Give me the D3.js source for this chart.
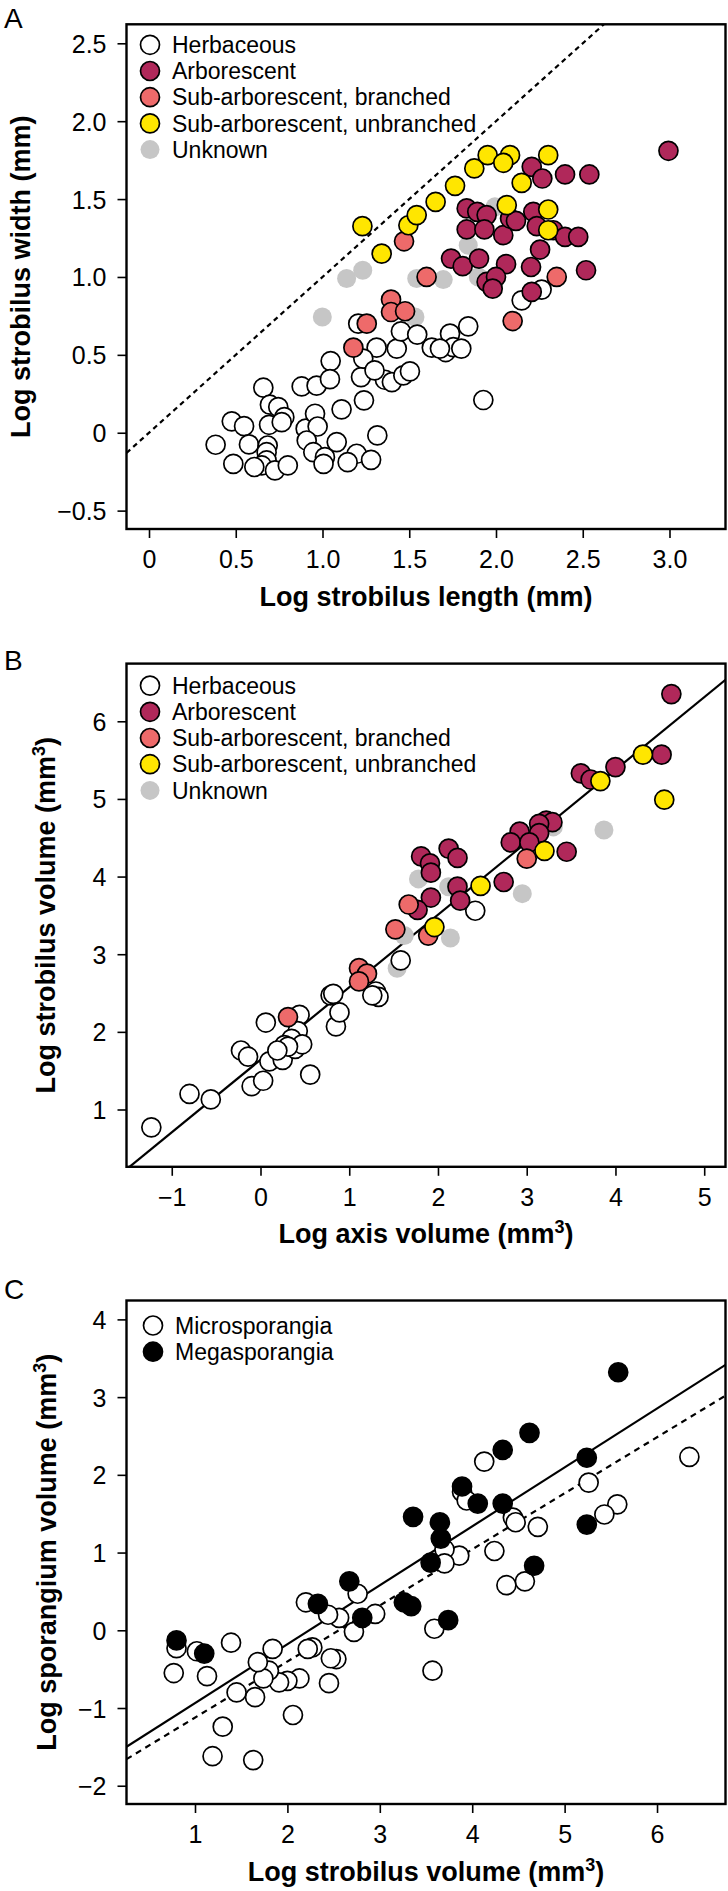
<!DOCTYPE html>
<html><head><meta charset="utf-8">
<script src="https://cdn.jsdelivr.net/npm/d3@7"></script>
<style>
body{margin:0;background:#fff}
svg{display:block}
</style>
</head><body>
<svg id="c" width="728" height="1891"></svg>
<script>
// ---------------- DATA ----------------
// Panel A: log strobilus length (x) vs log strobilus width (y)
const herbA = [[0.384,-0.077],[0.486,-0.2],[0.477,0.073],[0.548,0.042],[0.576,-0.075],[0.659,0.289],[0.697,0.18],[0.745,0.165],[0.692,0.051],[0.78,0.1],[0.765,0.068],[0.684,-0.082],[0.678,-0.125],[0.678,-0.178],[0.65,-0.21],[0.726,-0.242],[0.80,-0.21],[0.607,-0.22],[0.88,0.297],[0.966,0.302],[1.047,0.46],[1.043,0.344],[0.903,0.026],[0.957,0.122],[0.972,0.04],[0.909,-0.05],[0.947,-0.125],[1.014,-0.157],[1.006,-0.2],[1.082,-0.06],[1.11,0.15],[1.197,-0.135],[1.145,-0.189],[1.28,-0.174],[1.316,-0.017],[1.239,0.208],[1.222,0.357],[1.312,0.546],[1.235,0.476],[1.36,0.34],[1.30,0.40],[1.40,0.325],[1.466,0.368],[1.504,0.394],[1.428,0.54],[1.452,0.651],[1.546,0.63],[1.63,0.546],[1.71,0.518],[1.206,0.70],[2.148,0.85],[2.263,0.919],[1.84,0.683],[1.735,0.636],[1.754,0.55],[1.80,0.54],[1.677,0.54],[1.927,0.21]];
const arbA = [[2.206,1.707],[2.267,1.632],[2.398,1.658],[2.538,1.658],[1.831,1.44],[1.892,1.418],[1.946,1.397],[1.831,1.305],[1.933,1.305],[2.042,1.268],[2.081,1.375],[2.115,1.36],[2.215,1.418],[2.235,1.326],[2.33,1.30],[2.398,1.257],[2.474,1.257],[2.254,1.176],[1.741,1.118],[1.808,1.069],[1.902,1.118],[2.058,1.082],[2.202,1.064],[2.519,1.043],[1.946,0.968],[2.0,1.0],[1.981,0.925],[2.206,0.904],[2.994,1.81]];
const branchA = [[1.178,0.546],[1.255,0.70],[1.395,0.855],[1.395,0.775],[1.476,0.78],[1.60,1.0],[1.47,1.229],[2.35,1.0],[2.096,0.717]];
const unbranchA = [[1.23,1.326],[1.341,1.15],[1.495,1.332],[1.543,1.397],[1.652,1.482],[1.764,1.585],[1.875,1.697],[1.952,1.782],[2.081,1.782],[2.042,1.733],[2.301,1.782],[2.148,1.604],[2.062,1.461],[2.301,1.433],[2.301,1.30]];
const unknownA = [[0.999,0.743],[1.139,0.99],[1.232,1.043],[1.533,0.743],[1.543,0.99],[1.696,0.983],[1.84,1.204],[1.898,1.0],[1.994,1.45]];

// Panel B: log axis volume (x) vs log strobilus volume (y)
const herbB = [[-1.23,0.77],[-0.80,1.20],[-0.56,1.13],[-0.10,1.30],[0.03,1.37],[-0.22,1.76],[-0.14,1.68],[0.10,1.62],[0.25,1.64],[0.06,2.12],[0.44,2.22],[0.42,2.01],[0.35,1.91],[0.39,1.78],[0.47,1.84],[0.27,1.83],[0.31,1.81],[0.19,1.76],[0.56,1.45],[0.85,2.07],[0.89,2.25],[0.79,2.47],[0.82,2.49],[1.30,2.52],[1.33,2.45],[1.26,2.47],[1.58,2.92],[2.42,3.56]];
const arbB = [[4.63,6.35],[4.52,5.57],[4.00,5.41],[3.61,5.33],[3.72,5.25],[3.22,4.72],[3.29,4.70],[3.14,4.68],[2.92,4.58],[3.14,4.56],[2.82,4.44],[3.03,4.44],[3.45,4.32],[2.74,3.93],[2.12,4.36],[2.22,4.24],[1.81,4.26],[1.91,4.17],[1.92,4.05],[2.22,3.87],[2.25,3.69],[1.92,3.73],[1.77,3.57]];
const branchB = [[3.00,4.23],[1.67,3.64],[1.52,3.32],[1.11,2.82],[1.20,2.75],[1.11,2.65],[0.31,2.19],[1.89,3.24]];
const unbranchB = [[4.31,5.57],[3.83,5.23],[4.55,4.99],[3.20,4.33],[2.48,3.88],[1.96,3.35]];
const unknownB = [[3.87,4.60],[2.95,3.78],[1.78,3.97],[2.12,3.87],[2.14,3.21],[1.62,3.24],[1.54,2.82],[3.30,4.64]];

// Panel C: log strobilus volume (x) vs log sporangium volume (y)
const microC = [[6.35,2.23],[4.13,2.17],[5.26,1.90],[5.57,1.62],[5.43,1.49],[3.89,1.78],[3.94,1.67],[4.44,1.45],[4.47,1.39],[4.71,1.33],[4.24,1.02],[3.86,0.96],[3.70,1.04],[3.70,0.86],[4.37,0.58],[4.57,0.63],[3.59,0.02],[3.57,-0.52],[2.76,0.47],[2.95,0.21],[2.72,-0.02],[2.56,0.16],[2.44,0.20],[2.20,0.36],[2.27,-0.22],[2.22,-0.24],[2.53,-0.37],[2.47,-0.36],[2.45,-0.68],[2.13,-0.62],[2.00,-0.65],[1.91,-0.67],[1.84,-0.24],[1.80,-0.52],[1.74,-0.62],[1.68,-0.41],[1.65,-0.86],[1.45,-0.80],[1.39,-0.16],[1.13,-0.59],[1.02,-0.27],[0.80,-0.23],[0.77,-0.55],[1.30,-1.24],[1.19,-1.62],[1.63,-1.67],[2.06,-1.09]];
const megaC = [[5.58,3.32],[4.62,2.54],[4.33,2.32],[5.24,2.22],[3.89,1.85],[4.06,1.63],[4.33,1.63],[3.36,1.46],[3.65,1.39],[3.66,1.18],[5.24,1.36],[3.55,0.87],[4.67,0.83],[2.67,0.63],[2.33,0.34],[3.26,0.36],[3.34,0.31],[2.81,0.16],[3.74,0.13],[0.80,-0.13],[1.10,-0.30]];

// fitted lines [intercept, slope]
const lineA = [0, 1];            // 1:1 line (dashed)
const lineB = [1.64, 0.934];     // solid
const lineC1 = [-1.695, 0.758];  // solid
const lineC2 = [-1.845, 0.7215]; // dashed

// tick values
const xTicksA = [0,0.5,1,1.5,2,2.5,3];
const yTicksA = [-0.5,0,0.5,1,1.5,2,2.5];
const xTicksB = [-1,0,1,2,3,4,5];
const yTicksB = [1,2,3,4,5,6];
const xTicksC = [1,2,3,4,5,6];
const yTicksC = [-2,-1,0,1,2,3,4];

const legendA = ["Herbaceous","Arborescent","Sub-arborescent, branched","Sub-arborescent, unbranched","Unknown"];
const legendC = ["Microsporangia","Megasporangia"];

// ---------------- STYLE / LAYOUT ----------------
const FONT = "'Liberation Sans', Arial, Helvetica, sans-serif";
const COL = {herb:"#ffffff", arb:"#B0285A", branch:"#EE6A6A", unbranch:"#FFE600", unknown:"#C6C6C6", micro:"#ffffff", mega:"#000000"};
const L = 126.5, R = 725.5, RAD = 9.5;

const fmt1 = d => d === 0 ? "0" : d3.format(".1f")(d).replace("-", "\u2212");
const fmt0 = d => d3.format("d")(d).replace("-", "\u2212");

const svg = d3.select("#c");

function drawPanel(p) {
  const x = d3.scaleLinear().domain(p.xd).range([L, R]);
  const y = d3.scaleLinear().domain(p.yd).range([p.bottom, p.top]);
  const g = svg.append("g");
  const cid = "clip" + p.letter;
  svg.append("clipPath").attr("id", cid).append("rect")
    .attr("x", L).attr("y", p.top).attr("width", R - L).attr("height", p.bottom - p.top);

  // lines
  p.lines.forEach(l => {
    g.append("line").attr("clip-path", `url(#${cid})`)
      .attr("x1", x(p.xd[0])).attr("y1", y(l.ab[0] + l.ab[1] * p.xd[0]))
      .attr("x2", x(p.xd[1])).attr("y2", y(l.ab[0] + l.ab[1] * p.xd[1]))
      .attr("stroke", "#000").attr("stroke-width", 2.2)
      .attr("stroke-dasharray", l.dash || null);
  });

  // points (drawing order)
  p.series.forEach(s => {
    g.append("g").selectAll("circle").data(s.data).join("circle")
      .attr("cx", d => x(d[0])).attr("cy", d => y(d[1])).attr("r", RAD)
      .attr("fill", s.fill).attr("stroke", s.stroke ? "#000" : "none").attr("stroke-width", 1.7);
  });

  // box
  g.append("rect").attr("x", L).attr("y", p.top).attr("width", R - L).attr("height", p.bottom - p.top)
    .attr("fill", "none").attr("stroke", "#000").attr("stroke-width", 2.4);

  // axes
  const ax = g.append("g").attr("transform", `translate(0,${p.bottom})`)
    .call(d3.axisBottom(x).tickValues(p.xt).tickFormat(p.xf).tickSize(9).tickPadding(12));
  const ay = g.append("g").attr("transform", `translate(${L},0)`)
    .call(d3.axisLeft(y).tickValues(p.yt).tickFormat(p.yf).tickSize(9).tickPadding(11));
  [ax, ay].forEach(a => {
    a.select(".domain").remove();
    a.attr("font-size", 25).attr("font-family", FONT);
    a.selectAll("line").attr("stroke-width", 1.6);
    a.selectAll("text").attr("fill", "#000");
  });
  ay.selectAll("text").attr("dy", "0.36em");

  // axis titles
  const xt = g.append("text").attr("x", (L + R) / 2).attr("y", p.bottom + 76.5)
    .attr("text-anchor", "middle").attr("font-family", FONT).attr("font-weight", "bold").attr("font-size", 27);
  addTitle(xt, p.xlab);
  const yt = g.append("text").attr("transform", `translate(${p.ylabX},${(p.top + p.bottom) / 2}) rotate(-90)`)
    .attr("text-anchor", "middle").attr("font-family", FONT).attr("font-weight", "bold").attr("font-size", 27);
  addTitle(yt, p.ylab);

  // panel letter
  g.append("text").attr("x", 4).attr("y", p.letterY).attr("font-family", FONT).attr("font-size", 28).text(p.letter);

  // legend
  p.legend.forEach((it, i) => {
    const cy = p.top + p.legTop + i * 26.2;
    g.append("circle").attr("cx", p.legX).attr("cy", cy).attr("r", RAD)
      .attr("fill", it.fill).attr("stroke", it.stroke ? "#000" : "none").attr("stroke-width", 1.7);
    g.append("text").attr("x", p.legX + 22).attr("y", cy).attr("dy", "0.36em")
      .attr("font-family", FONT).attr("font-size", 23).text(it.label);
  });
}

function addTitle(t, lab) {
  if (lab.sup) {
    t.append("tspan").text(lab.main);
    t.append("tspan").attr("font-size", 18).attr("dy", -10).text(lab.sup);
    t.append("tspan").attr("dy", 10).text(lab.end);
  } else {
    t.text(lab.main);
  }
}

const legFive = [
  {label: legendA[0], fill: COL.herb, stroke: true},
  {label: legendA[1], fill: COL.arb, stroke: true},
  {label: legendA[2], fill: COL.branch, stroke: true},
  {label: legendA[3], fill: COL.unbranch, stroke: true},
  {label: legendA[4], fill: COL.unknown, stroke: false}
];

drawPanel({
  letter: "A", letterY: 28, top: 24.3, bottom: 529,
  xd: [-0.1297, 3.3228], yd: [-0.618, 2.622],
  xt: xTicksA, yt: yTicksA, xf: fmt1, yf: fmt1,
  lines: [{ab: lineA, dash: "5,4"}],
  series: [
    {data: unknownA, fill: COL.unknown, stroke: false},
    {data: herbA, fill: COL.herb, stroke: true},
    {data: arbA, fill: COL.arb, stroke: true},
    {data: branchA, fill: COL.branch, stroke: true},
    {data: unbranchA, fill: COL.unbranch, stroke: true}
  ],
  xlab: {main: "Log strobilus length (mm)"},
  ylab: {main: "Log strobilus width (mm)"}, ylabX: 30,
  legend: legFive, legX: 150, legTop: 20.5
});

drawPanel({
  letter: "B", letterY: 670, top: 663.6, bottom: 1166.8,
  xd: [-1.51, 5.24], yd: [0.262, 6.743],
  xt: xTicksB, yt: yTicksB, xf: fmt0, yf: fmt0,
  lines: [{ab: lineB}],
  series: [
    {data: unknownB, fill: COL.unknown, stroke: false},
    {data: herbB, fill: COL.herb, stroke: true},
    {data: arbB, fill: COL.arb, stroke: true},
    {data: branchB, fill: COL.branch, stroke: true},
    {data: unbranchB, fill: COL.unbranch, stroke: true}
  ],
  xlab: {main: "Log axis volume (mm", sup: "3", end: ")"},
  ylab: {main: "Log strobilus volume (mm", sup: "3", end: ")"}, ylabX: 55,
  legend: legFive, legX: 150, legTop: 22
});

drawPanel({
  letter: "C", letterY: 1299, top: 1300.5, bottom: 1804,
  xd: [0.2587, 6.741], yd: [-2.235, 4.243],
  xt: xTicksC, yt: yTicksC, xf: fmt0, yf: fmt0,
  lines: [{ab: lineC1}, {ab: lineC2, dash: "6,5"}],
  series: [
    {data: microC, fill: COL.micro, stroke: true},
    {data: megaC, fill: COL.mega, stroke: true}
  ],
  xlab: {main: "Log strobilus volume (mm", sup: "3", end: ")"},
  ylab: {main: "Log sporangium volume (mm", sup: "3", end: ")"}, ylabX: 56,
  legend: [
    {label: legendC[0], fill: COL.micro, stroke: true},
    {label: legendC[1], fill: COL.mega, stroke: true}
  ], legX: 153, legTop: 25
});
</script>
</body></html>
